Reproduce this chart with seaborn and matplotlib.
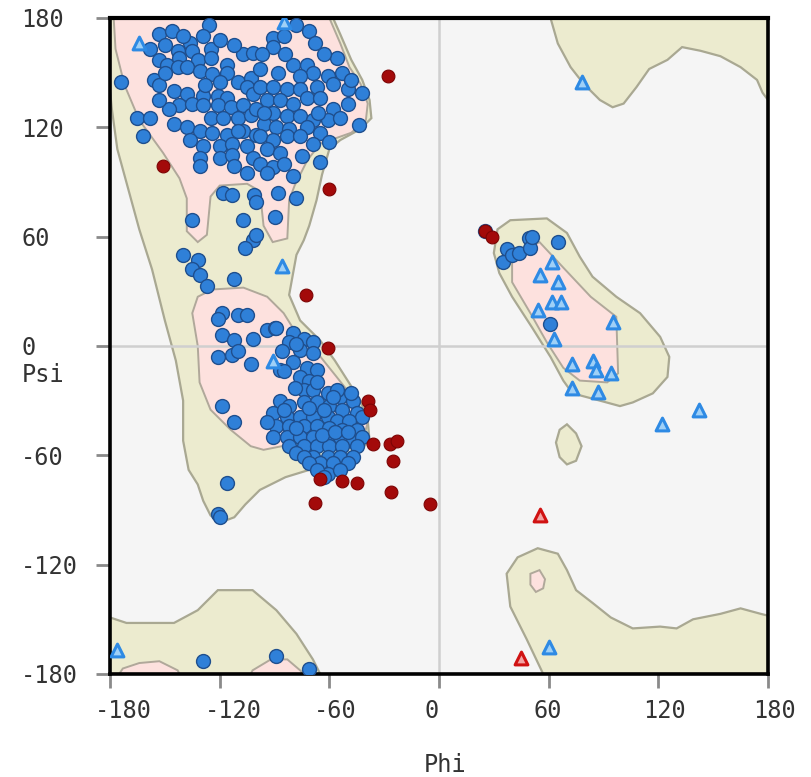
import matplotlib
matplotlib.use("Agg")
import matplotlib.pyplot as plt
import matplotlib.transforms as mtransforms
import seaborn as sns
import pandas as pd

# ---------------- data (phi, psi in degrees) ----------------
general_favoured = [
    (-126,176),(-153,171),(-146,173),(-129,170),(-136,166),(-158,163),(-143,162),(-135,162),(-125,163),
    (-153,157),(-149,154),(-142,158),(-132,157),(-125,158),(-116,154),(-107,160),(-102,161),(-143,153),
    (-138,153),(-131,151),(-124,149),(-116,150),(-110,145),(-103,147),(-174,145),(-156,146),(-153,143),
    (-145,140),(-138,138),(-129,137),(-121,137),(-116,136),(-105,142),(-102,138),(-142,132),(-135,133),
    (-129,132),(-121,132),(-114,131),(-107,132),(-125,125),(-118,125),(-110,125),(-103,127),(-165,125),
    (-158,125),(-145,122),(-138,120),(-131,118),(-124,117),(-116,116),(-107,118),(-100,116),(-162,115),
    (-136,113),(-129,110),(-120,110),(-113,111),(-105,110),(-131,103),(-120,103),(-113,105),(-102,103),
    (-131,99),(-78,176),(-71,173),(-91,169),(-91,164),(-56,158),(-80,154),(-72,154),(-69,150),(-53,150),
    (-76,148),(-61,148),(-58,144),(-67,142),(-50,141),(-42,139),(-98,142),(-91,142),(-83,141),(-76,141),
    (-72,136),(-65,136),(-58,130),(-50,133),(-94,135),(-87,135),(-80,133),(-100,130),(-91,128),(-83,126),
    (-76,126),(-69,124),(-61,124),(-44,121),(-96,122),(-89,120),(-82,119),(-72,120),(-65,117),(-98,115),
    (-91,113),(-83,115),(-76,115),(-69,111),(-94,108),(-87,106),(-98,100),(-91,98),(-94,95),(-65,101),
    (-80,93),(-118,84),(-113,83),(-101,83),(-88,84),(-78,81),(-100,79),(-135,69),(-107,69),(-90,71),
    (-102,58),(-106,54),(-100,61),
    (-150,165),(-140,170),(-120,168),(-112,165),(-97,160),(-98,152),(-88,150),(-84,160),(-63,160),
    (-66,128),(-54,125),(-85,100),(-75,104),(-60,112),(-110,118),(-148,130),(-153,135),(-120,145),
    (-128,143),(-96,128),(-112,99),(-105,95),(-85,170),(-68,166),(-48,146),(-150,150),
    (-140,50),(-132,47),(-135,42),(-131,39),(-127,33),(-112,37),(-119,18),(-121,15),(-110,17),(-105,17),
    (-119,6),(-112,3),(-102,4),(-94,9),(-90,10),(-121,-6),(-113,-5),(-110,-3),(-103,-10),(-87,-13),
    (-119,-33),(-112,-42),(-116,-75),(-121,-92),(-120,-94),
    (-89,10),(-80,7),(-74,4),(-69,2),(-82,2),(-76,-2),(-69,-4),(-80,-9),(-72,-12),(-67,-13),(-85,-14),
    (-76,-17),(-71,-19),(-74,-24),(-69,-24),(-61,-26),(-54,-28),(-47,-30),(-87,-30),(-82,-33),(-74,-31),
    (-67,-31),(-60,-33),(-53,-35),(-45,-37),(-42,-39),(-91,-37),(-83,-39),(-76,-39),(-69,-39),(-61,-39),
    (-56,-41),(-49,-41),(-89,-44),(-82,-44),(-74,-44),(-67,-44),(-60,-45),(-53,-46),(-45,-46),(-91,-50),
    (-83,-50),(-76,-50),(-69,-50),(-61,-50),(-54,-50),(-47,-52),(-42,-50),(-82,-55),(-74,-55),(-67,-55),
    (-60,-55),(-53,-55),(-45,-55),(-69,-61),(-61,-61),(-54,-61),(-47,-61),(-65,-64),(-58,-64),(-50,-64),
    (-61,-70),(-54,-68),(-48,-26),(-56,-24),(-67,-20),(-85,-35),(-94,-42),(-78,-59),(-74,-61),(-71,-64),
    (-67,-68),(-63,-72),
    (-63,-35),(-58,-28),(-78,-45),(-71,-34),(-64,-49),(-57,-47),(-50,-47),(-79,-23),(-86,-3),(-78,1),
    (25,63),(37,53),(35,46),(40,50),(44,51),(49,59),(50,54),(51,60),(65,57),(61,12),
    (-129,-173),(-89,-170),(-71,-177),
]
general_outliers = [
    (-28,148),(-151,99),(-60,86),(-73,28),(-61,-1),(-39,-30),(-38,-35),(-36,-54),(-27,-54),(-23,-52),
    (-25,-63),(-26,-80),(-5,-87),(-68,-86),(-53,-74),(-45,-75),(-65,-73),(25,63),(29,60),
]
glycine_favoured = [
    (62,46),(55,39),(65,35),(62,24),(67,24),(54,20),(63,4),(95,13),(73,-10),(84,-8),(86,-13),(94,-15),
    (73,-23),(87,-25),(122,-43),(142,-35),(78,145),(60,-165),(-176,-167),(-86,44),(-91,-8),(-164,166),
    (-85,178),
]
glycine_outliers = [(55,-93),(45,-171)]

# ---------------- region outlines (phi, psi in degrees) ----------------
allowed_regions = [
    [(-180,180),(-58,180),(-54,171),(-48,157),(-42,146),(-38,135),(-37,125),(-43,119),(-54,113),(-60,108),
     (-64,94),(-67,80),(-71,66),(-74,58),(-78,50),(-80,39),(-82,28),(-76,14),(-65,3),(-57,-8),(-50,-19),
     (-43,-30),(-39,-41),(-38,-52),(-43,-57),(-57,-64),(-71,-68),(-84,-72),(-98,-79),(-106,-87),(-112,-94),
     (-120,-97),(-125,-93),(-129,-85),(-132,-76),(-137,-68),(-140,-52),(-140,-30),(-144,-8),(-150,14),
     (-157,42),(-164,64),(-170,86),(-176,108),(-179,130),(-180,140)],
    [(61,180),(65,166),(72,153),(79,144),(88,135),(95,131),(101,133),(108,142),(115,152),(125,157),
     (133,164),(143,162),(154,159),(165,153),(174,146),(177,139),(180,135),(180,180)],
    [(32,64),(39,69),(59,70),(70,62),(77,49),(84,38),(97,27),(110,18),(121,5),(126,-6),(125,-17),(117,-26),
     (106,-31),(99,-33),(88,-30),(73,-26),(68,-19),(61,-6),(51,10),(40,27),(33,40),(30,51)],
    [(70,-43),(75,-48),(78,-55),(75,-63),(70,-65),(66,-61),(64,-53),(66,-46)],
    [(57,-180),(48,-161),(39,-143),(37,-125),(43,-116),(54,-111),(65,-114),(70,-123),(75,-134),(84,-141),
     (94,-149),(106,-155),(121,-154),(130,-155),(139,-150),(154,-147),(165,-144),(176,-147),(180,-148),
     (180,-180)],
    [(-180,-149),(-171,-152),(-145,-152),(-132,-145),(-121,-134),(-102,-134),(-89,-145),(-78,-158),
     (-69,-172),(-65,-180),(-180,-180)],
]
favoured_regions = [
    [(-178,180),(-60,180),(-54,166),(-49,153),(-43,144),(-39,133),(-40,124),(-48,117),(-65,111),(-72,102),
     (-79,88),(-82,80),(-83,59),(-91,57),(-96,66),(-98,85),(-105,89),(-120,88),(-125,82),(-127,61),
     (-132,57),(-138,63),(-138,81),(-142,92),(-151,106),(-164,124),(-172,143),(-177,163)],
    [(-124,31),(-107,32),(-94,27),(-85,18),(-80,10),(-68,-2),(-56,-17),(-45,-31),(-39,-42),(-42,-53),
     (-53,-57),(-76,-53),(-96,-57),(-103,-55),(-114,-46),(-125,-35),(-131,-20),(-132,0),(-135,18),(-132,27)],
    [(40,49),(55,57),(68,43),(83,27),(97,16),(98,-15),(92,-20),(77,-19),(68,-12),(59,2),(50,18),(40,35)],
    [(50,-125),(55,-123),(58,-128),(57,-133),(53,-135),(50,-131)],
    [(-175,-180),(-173,-177),(-164,-174),(-153,-173),(-143,-178),(-142,-180)],
    [(-103,-180),(-102,-178),(-92,-172),(-83,-172),(-76,-178),(-74,-180)],
]

tick_values = [-180, -120, -60, 0, 60, 120, 180]
tick_labels = ["-180", "-120", "-60", "0", "60", "120", "180"]

# ---------------- figure ----------------
sns.set_theme(style="white")
plt.rcParams["font.family"] = ["DejaVu Sans Mono", "DejaVu Sans"]

fig = plt.figure(figsize=(8.12, 7.77), dpi=100)
ax = fig.add_axes([0.1355, 0.1326, 0.8103, 0.8443])
ax.set_facecolor("#f5f5f5")

for poly in allowed_regions:
    xs, ys = zip(*poly)
    ax.fill(xs, ys, facecolor="#ecebcf", edgecolor="#a9a892", linewidth=1.6, zorder=1)
for poly in favoured_regions:
    xs, ys = zip(*poly)
    ax.fill(xs, ys, facecolor="#fde1de", edgecolor="#b0a89a", linewidth=1.4, zorder=1.2)

ax.axhline(0, color="#cfcfcf", lw=1.8, zorder=1.5)
ax.axvline(0, color="#cfcfcf", lw=1.8, zorder=1.5)

def frame(pts):
    return pd.DataFrame(pts, columns=["phi", "psi"])

sns.scatterplot(data=frame(general_favoured), x="phi", y="psi", ax=ax, marker="o", s=100,
                color="#2f80d8", edgecolor="#1f4f8e", linewidth=1.0, zorder=3, legend=False)
sns.scatterplot(data=frame(general_outliers), x="phi", y="psi", ax=ax, marker="o", s=85,
                color="#a30a0a", edgecolor="#7d0404", linewidth=0.8, zorder=3, legend=False)
sns.scatterplot(data=frame(glycine_favoured), x="phi", y="psi", ax=ax, marker="^", s=85,
                color="#9fd0f7", edgecolor="#2e8ae4", linewidth=2.2, zorder=3, legend=False)
sns.scatterplot(data=frame(glycine_outliers), x="phi", y="psi", ax=ax, marker="^", s=85,
                color="#f3a4a4", edgecolor="#d01212", linewidth=2.2, zorder=3, legend=False)

ax.set_xlim(-180, 180)
ax.set_ylim(-180, 180)
ax.set_xticks(tick_values)
ax.set_xticklabels(tick_labels)
ax.set_yticks(tick_values)
ax.set_yticklabels(tick_labels)

for sp in ax.spines.values():
    sp.set_visible(True)
    sp.set_color("black")
    sp.set_linewidth(2.6)
ax.spines["top"].set_linewidth(3.0)

ax.tick_params(axis="both", which="major", direction="out", length=10, width=2,
               color="#8a8a8a", labelsize=17, labelcolor="#333333")
ax.tick_params(axis="x", pad=8, bottom=True)
ax.tick_params(axis="y", pad=54, left=True)
for lab in ax.get_yticklabels():
    lab.set_horizontalalignment("left")
offset = mtransforms.ScaledTranslation(-15 / 100, 0, fig.dpi_scale_trans)
for lab in ax.get_xticklabels():
    lab.set_horizontalalignment("left")
    lab.set_transform(lab.get_transform() + offset)

ax.set_xlabel("Phi", fontsize=17, color="#333333", va="center")
ax.xaxis.set_label_coords(0.509, -0.139)
ax.set_ylabel("Psi", fontsize=17, color="#333333", rotation=0, ha="left", va="center")
ax.yaxis.set_label_coords(-0.1337, 0.455)
ax.grid(False)

fig.savefig("out.png", dpi=100)
